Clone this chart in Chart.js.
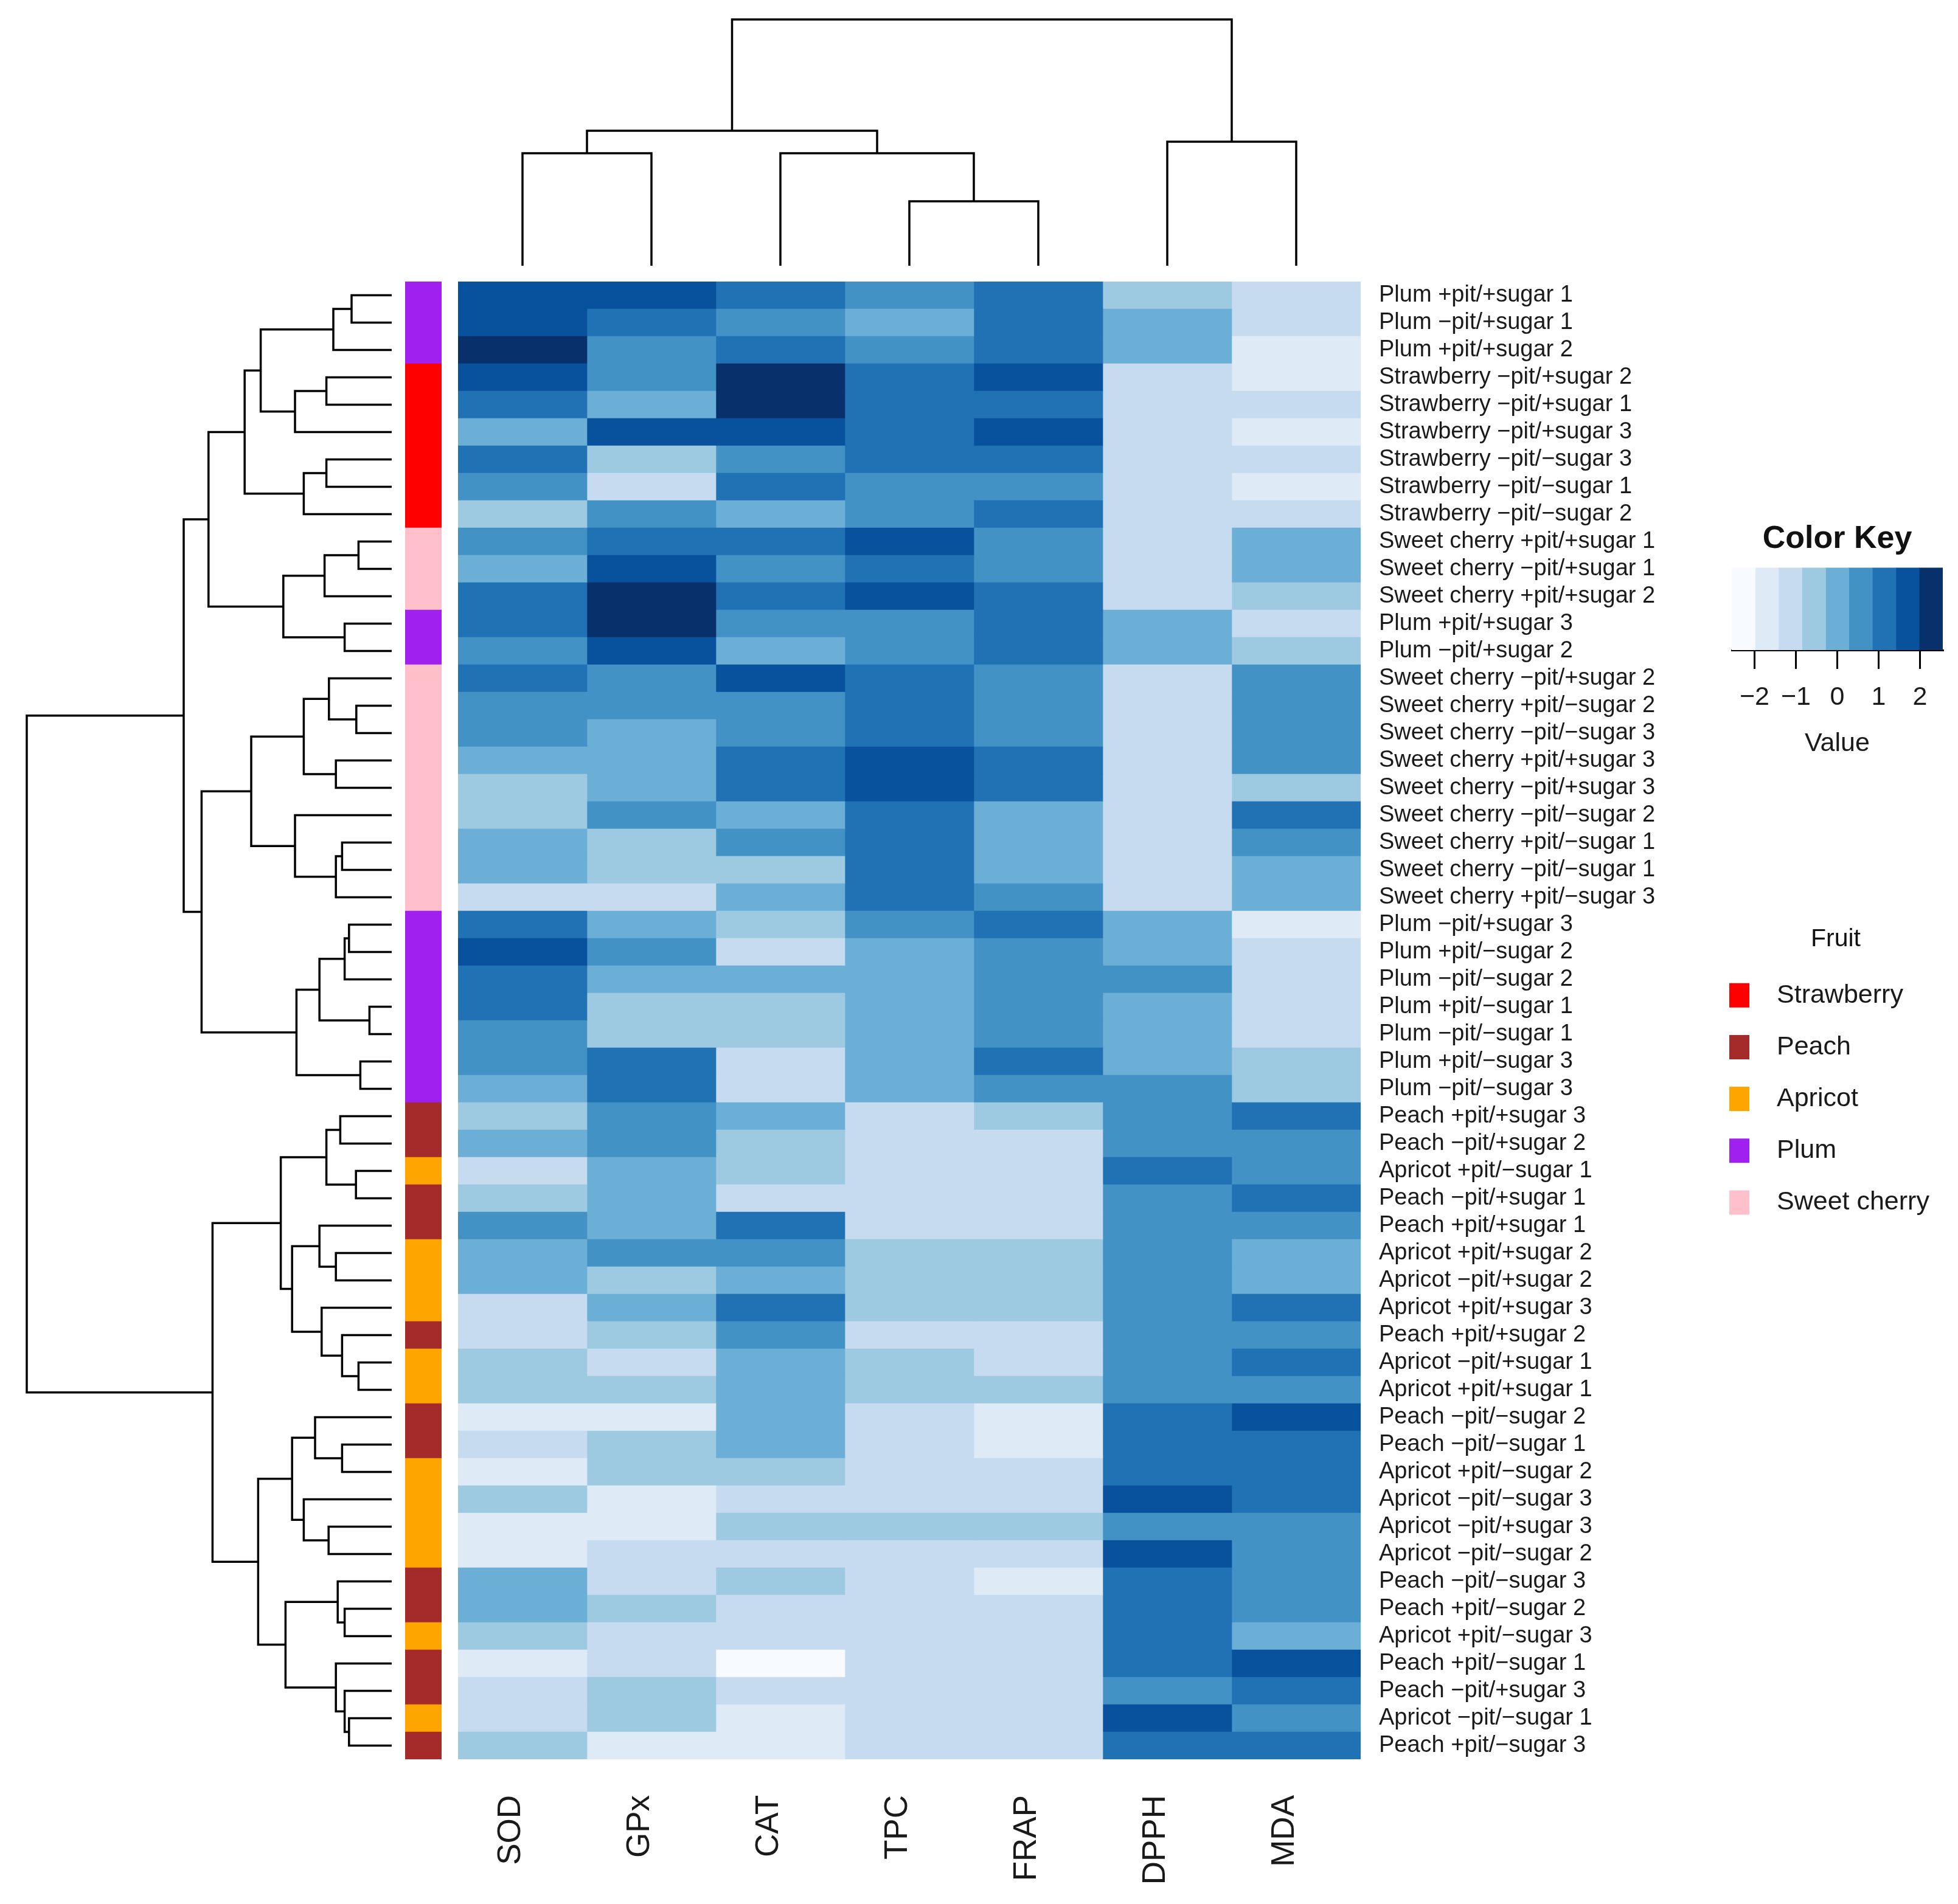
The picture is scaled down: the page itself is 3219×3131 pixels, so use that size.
<!DOCTYPE html>
<html>
<head>
<meta charset="utf-8">
<script src="https://cdn.jsdelivr.net/npm/chart.js@4.4.1/dist/chart.umd.min.js"></script>
<style>
  html, body { margin:0; padding:0; background:#fff; }
  body { width:3219px; height:3131px; position:relative; overflow:hidden; }
  canvas { position:absolute; }
</style>
</head>
<body>
<canvas id="col-dendro" width="1496" height="417" style="left:747px;top:26px"></canvas>
<canvas id="row-dendro" width="612" height="2430" style="left:38px;top:463px"></canvas>
<canvas id="fruit-bar" width="60" height="2430" style="left:666px;top:463px"></canvas>
<canvas id="heat" width="2084" height="2660" style="left:753px;top:463px"></canvas>
<canvas id="key" width="387" height="404" style="left:2827px;top:845px"></canvas>
<canvas id="fruit-legend" width="350" height="510" style="left:2843px;top:1510px"></canvas>
<script>
// Rows (dendrogram order) and columns
const ROWS = [
  'Plum +pit/+sugar 1','Plum −pit/+sugar 1','Plum +pit/+sugar 2',
  'Strawberry −pit/+sugar 2','Strawberry −pit/+sugar 1','Strawberry −pit/+sugar 3',
  'Strawberry −pit/−sugar 3','Strawberry −pit/−sugar 1','Strawberry −pit/−sugar 2',
  'Sweet cherry +pit/+sugar 1','Sweet cherry −pit/+sugar 1','Sweet cherry +pit/+sugar 2',
  'Plum +pit/+sugar 3','Plum −pit/+sugar 2',
  'Sweet cherry −pit/+sugar 2','Sweet cherry +pit/−sugar 2','Sweet cherry −pit/−sugar 3',
  'Sweet cherry +pit/+sugar 3','Sweet cherry −pit/+sugar 3','Sweet cherry −pit/−sugar 2',
  'Sweet cherry +pit/−sugar 1','Sweet cherry −pit/−sugar 1','Sweet cherry +pit/−sugar 3',
  'Plum −pit/+sugar 3','Plum +pit/−sugar 2','Plum −pit/−sugar 2','Plum +pit/−sugar 1',
  'Plum −pit/−sugar 1','Plum +pit/−sugar 3','Plum −pit/−sugar 3',
  'Peach +pit/+sugar 3','Peach −pit/+sugar 2','Apricot +pit/−sugar 1','Peach −pit/+sugar 1',
  'Peach +pit/+sugar 1','Apricot +pit/+sugar 2','Apricot −pit/+sugar 2','Apricot +pit/+sugar 3',
  'Peach +pit/+sugar 2','Apricot −pit/+sugar 1','Apricot +pit/+sugar 1',
  'Peach −pit/−sugar 2','Peach −pit/−sugar 1','Apricot +pit/−sugar 2','Apricot −pit/−sugar 3',
  'Apricot −pit/+sugar 3','Apricot −pit/−sugar 2','Peach −pit/−sugar 3','Peach +pit/−sugar 2',
  'Apricot +pit/−sugar 3','Peach +pit/−sugar 1','Peach −pit/+sugar 3','Apricot −pit/−sugar 1',
  'Peach +pit/−sugar 3'
];
const COLUMNS = ['SOD','GPx','CAT','TPC','FRAP','DPPH','MDA'];

// Scaled values (row order as above)
const SOD  = [1.7,1.7,2.3,1.7,1.2,0.0,1.2,0.6,-0.6,0.6, 0.0,1.2,1.2,0.6,1.2,0.6,0.6,0.0,-0.6,-0.6, 0.0,0.0,-1.2,1.2,1.7,1.2,1.2,0.6,0.6,0.0, -0.6,0.0,-1.2,-0.6,0.6,0.0,0.0,-1.2,-1.2,-0.6, -0.6,-1.7,-1.2,-1.7,-0.6,-1.7,-1.7,0.0,0.0,-0.6, -1.7,-1.2,-1.2,-0.6];
const GPX  = [1.7,1.2,0.6,0.6,0.0,1.7,-0.6,-1.2,0.6,1.2, 1.7,2.3,2.3,1.7,0.6,0.6,0.0,0.0,0.0,0.6, -0.6,-0.6,-1.2,0.0,0.6,0.0,-0.6,-0.6,1.2,1.2, 0.6,0.6,0.0,0.0,0.0,0.6,-0.6,0.0,-0.6,-1.2, -0.6,-1.7,-0.6,-0.6,-1.7,-1.7,-1.2,-1.2,-0.6,-1.2, -1.2,-0.6,-0.6,-1.7];
const CAT  = [1.2,0.6,1.2,2.3,2.3,1.7,0.6,1.2,0.0,1.2, 0.6,1.2,0.6,0.0,1.7,0.6,0.6,1.2,1.2,0.0, 0.6,-0.6,0.0,-0.6,-1.2,0.0,-0.6,-0.6,-1.2,-1.2, 0.0,-0.6,-0.6,-1.2,1.2,0.6,0.0,1.2,0.6,0.0, 0.0,0.0,0.0,-0.6,-1.2,-0.6,-1.2,-0.6,-1.2,-1.2, -2.3,-1.2,-1.7,-1.7];
const TPC  = [0.6,0.0,0.6,1.2,1.2,1.2,1.2,0.6,0.6,1.7, 1.2,1.7,0.6,0.6,1.2,1.2,1.2,1.7,1.7,1.2, 1.2,1.2,1.2,0.6,0.0,0.0,0.0,0.0,0.0,0.0, -1.2,-1.2,-1.2,-1.2,-1.2,-0.6,-0.6,-0.6,-1.2,-0.6, -0.6,-1.2,-1.2,-1.2,-1.2,-0.6,-1.2,-1.2,-1.2,-1.2, -1.2,-1.2,-1.2,-1.2];
const FRAP = [1.2,1.2,1.2,1.7,1.2,1.7,1.2,0.6,1.2,0.6, 0.6,1.2,1.2,1.2,0.6,0.6,0.6,1.2,1.2,0.0, 0.0,0.0,0.6,1.2,0.6,0.6,0.6,0.6,1.2,0.6, -0.6,-1.2,-1.2,-1.2,-1.2,-0.6,-0.6,-0.6,-1.2,-1.2, -0.6,-1.7,-1.7,-1.2,-1.2,-0.6,-1.2,-1.7,-1.2,-1.2, -1.2,-1.2,-1.2,-1.2];
const DPPH = [-0.6,0.0,0.0,-1.2,-1.2,-1.2,-1.2,-1.2,-1.2,-1.2, -1.2,-1.2,0.0,0.0,-1.2,-1.2,-1.2,-1.2,-1.2,-1.2, -1.2,-1.2,-1.2,0.0,0.0,0.6,0.0,0.0,0.0,0.6, 0.6,0.6,1.2,0.6,0.6,0.6,0.6,0.6,0.6,0.6, 0.6,1.2,1.2,1.2,1.7,0.6,1.7,1.2,1.2,1.2, 1.2,0.6,1.7,1.2];
const MDA  = [-1.2,-1.2,-1.7,-1.7,-1.2,-1.7,-1.2,-1.7,-1.2,0.0, 0.0,-0.6,-1.2,-0.6,0.6,0.6,0.6,0.6,-0.6,1.2, 0.6,0.0,0.0,-1.7,-1.2,-1.2,-1.2,-1.2,-0.6,-0.6, 1.2,0.6,0.6,1.2,0.6,0.0,0.0,1.2,0.6,1.2, 0.6,1.7,1.2,1.2,1.2,0.6,0.6,0.6,0.6,0.0, 1.7,1.2,0.6,1.2];
const SERIES = [SOD, GPX, CAT, TPC, FRAP, DPPH, MDA];

// Colour key
const KEY_BREAKS = [-2.55,-1.98,-1.42,-0.85,-0.28,0.28,0.85,1.42,1.98,2.55];
const BLUES = ['#f7fbff','#deebf7','#c6dbef','#9ecae1','#6baed6','#4292c6','#2171b5','#08519c','#08306b'];
const KEY_TICKS = [-2,-1,0,1,2];

// Fruit annotation
const FRUITS = ['Strawberry','Peach','Apricot','Plum','Sweet cherry'];
const FRUIT_COLORS = ['#ff0000','#a52a2a','#ffa500','#a020f0','#ffc0cb'];

// Dendrograms: [childA, childB, height]; negative = leaf (1-based), positive = earlier merge
const ROW_MERGE = [
  [-1,-2,1.10],[1,-3,1.60],[-4,-5,1.79],[3,-6,2.65],[2,4,3.59],[-7,-8,1.79],[6,-9,2.41],[5,7,4.03],
  [-10,-11,0.91],[9,-12,1.84],[-13,-14,1.29],[10,11,2.97],[8,12,5.02],
  [-16,-17,0.97],[-15,14,1.72],[-18,-19,1.53],[15,16,2.41],[-21,-22,1.36],[18,-23,1.53],[-20,19,2.65],[17,20,3.85],
  [-24,-25,1.17],[22,-26,1.29],[-27,-28,0.61],[23,24,1.98],[-29,-30,0.86],[25,26,2.61],[21,27,5.21],[13,28,5.70],
  [-31,-32,1.41],[-33,-34,0.98],[30,31,1.79],[-36,-37,1.53],[-35,33,1.98],[-40,-41,0.91],[-39,35,1.36],[-38,36,1.92],
  [34,37,2.73],[32,38,3.04],
  [-43,-44,1.36],[-42,40,2.10],[-46,-47,1.73],[-45,42,2.41],[41,43,2.73],
  [-49,-50,1.29],[-48,45,1.48],[-53,-54,1.17],[-52,47,1.29],[-51,48,1.53],[46,49,2.91],[44,50,3.66],
  [39,51,4.91],[29,52,10]
];
const COL_MERGE = [[-1,-2,4.57],[-4,-5,2.62],[-3,2,4.57],[1,3,5.48],[-6,-7,5.04],[4,5,10]];

Chart.defaults.font = { family:"'Liberation Sans', Arial, sans-serif", size:38 };
Chart.defaults.color = '#1a1a1a';
Chart.defaults.animation = false;
Chart.defaults.responsive = false;
Chart.defaults.devicePixelRatio = 1;
Chart.defaults.events = [];
Chart.defaults.plugins.legend.display = false;
Chart.defaults.plugins.tooltip.enabled = false;

const colorFor = v => {
  let k = KEY_BREAKS.findIndex(b => v < b) - 1;
  if (k < 0) k = v < KEY_BREAKS[0] ? 0 : BLUES.length - 1;
  return BLUES[Math.min(k, BLUES.length - 1)];
};
const fruitOf = label => FRUITS.findIndex(f => label.startsWith(f));
const noPad = axis => { axis.paddingTop = 0; axis.paddingBottom = 0; axis.paddingLeft = 0; axis.paddingRight = 0; };

function dendroPaths(merges) {
  const nodes = [];
  const get = r => r < 0 ? { pos: -r - 0.5, h: 0 } : nodes[r - 1];
  return merges.map(([a, b, h]) => {
    const na = get(a), nb = get(b);
    nodes.push({ pos: (na.pos + nb.pos) / 2, h });
    return [[na.pos, na.h], [na.pos, h], [nb.pos, h], [nb.pos, nb.h]];
  });
}
const lineDs = pts => ({ data: pts, showLine:true, borderColor:'#000', borderWidth:3.5, pointRadius:0, tension:0, clip:false });

// Column dendrogram
new Chart(document.getElementById('col-dendro'), {
  type:'scatter',
  data:{ datasets: dendroPaths(COL_MERGE).map(p => lineDs(p.map(([pos, h]) => ({ x:pos, y:h })))) },
  options:{ layout:{ padding:6 },
    scales:{ x:{ type:'linear', min:0, max:COLUMNS.length, display:false }, y:{ type:'linear', min:0, max:10, display:false } } }
});

// Row dendrogram
new Chart(document.getElementById('row-dendro'), {
  type:'scatter',
  data:{ datasets: dendroPaths(ROW_MERGE).map(p => lineDs(p.map(([pos, h]) => ({ x:h, y:pos })))) },
  options:{ layout:{ padding:{ left:6, right:6, top:0, bottom:0 } },
    scales:{ x:{ type:'linear', min:0, max:10, reverse:true, display:false },
             y:{ type:'linear', min:0, max:ROWS.length, reverse:true, display:false } } }
});

// Fruit side bar
new Chart(document.getElementById('fruit-bar'), {
  type:'bar',
  data:{ labels: ROWS, datasets:[{ data: ROWS.map(() => 1), backgroundColor: ROWS.map(r => FRUIT_COLORS[fruitOf(r)]),
    barPercentage:1, categoryPercentage:1, borderWidth:0 }] },
  options:{ indexAxis:'y', layout:{ padding:0 },
    scales:{ x:{ min:0, max:1, display:false }, y:{ display:false } } }
});

// Heatmap
new Chart(document.getElementById('heat'), {
  type:'bar',
  data:{ labels: ROWS,
    datasets: COLUMNS.map((name, c) => ({ label:name, data: ROWS.map(() => [c, c + 1]),
      backgroundColor: SERIES[c].map(colorFor), grouped:false, barPercentage:1, categoryPercentage:1, borderWidth:0 })) },
  options:{ indexAxis:'y', layout:{ padding:0 },
    scales:{
      x:{ type:'linear', position:'bottom', min:0, max:COLUMNS.length,
          grid:{ display:false, drawTicks:false }, border:{ display:false },
          afterBuildTicks: axis => { axis.ticks = COLUMNS.map((_, i) => ({ value: i + 0.5 })); },
          afterFit: axis => { axis.height = 230; noPad(axis); },
          ticks:{ autoSkip:false, minRotation:90, maxRotation:90, padding:59, labelOffset:-19,
                  font:{ size:53 }, callback:(v, i) => COLUMNS[i] } },
      y:{ type:'category', position:'right',
          grid:{ display:false, drawTicks:false }, border:{ display:false },
          afterFit: axis => { axis.width = 600; noPad(axis); },
          ticks:{ autoSkip:false, padding:30, font:{ size:38 } } }
    } }
});

// Colour key
new Chart(document.getElementById('key'), {
  type:'bar',
  data:{ labels:[''], datasets: BLUES.map((col, k) => ({ data:[[KEY_BREAKS[k], KEY_BREAKS[k + 1]]], backgroundColor:col,
    grouped:false, barPercentage:1, categoryPercentage:1, borderWidth:0 })) },
  options:{ indexAxis:'y', layout:{ padding:{ left:20, right:20, top:0, bottom:0 } },
    plugins:{ title:{ display:true, text:'Color Key', color:'#111', font:{ size:52, weight:'bold' }, padding:{ top:10, bottom:16 } } },
    scales:{
      x:{ type:'linear', min:KEY_BREAKS[0], max:KEY_BREAKS[KEY_BREAKS.length - 1],
          afterBuildTicks: axis => { axis.ticks = KEY_TICKS.map(v => ({ value:v })); },
          afterFit: axis => { axis.height = 180; noPad(axis); },
          grid:{ display:true, drawOnChartArea:false, drawTicks:true, tickLength:31, color:'#000', lineWidth:3 },
          border:{ display:true, color:'#000', width:3 },
          ticks:{ padding:21, font:{ size:43 }, callback: v => v < 0 ? '−' + Math.abs(v) : String(v) },
          title:{ display:true, text:'Value', font:{ size:43 }, padding:0 } },
      y:{ display:false }
    } }
});

// Fruit legend
new Chart(document.getElementById('fruit-legend'), {
  type:'bar',
  data:{ labels: FRUITS, datasets:[{ data: FRUITS.map(() => 1), backgroundColor: FRUIT_COLORS,
    barPercentage:0.47, categoryPercentage:1, borderWidth:0 }] },
  options:{ indexAxis:'y', layout:{ padding:0 },
    plugins:{ title:{ display:true, text:'Fruit', color:'#111', font:{ size:41, weight:'normal' }, padding:{ top:10, bottom:25 } } },
    scales:{
      x:{ min:0, max:1, display:false },
      y:{ type:'category', position:'right', grid:{ display:false, drawTicks:false }, border:{ display:false },
          afterFit: axis => { axis.width = 317; noPad(axis); },
          ticks:{ padding:45, font:{ size:43 } } }
    } }
});
</script>
</body>
</html>
